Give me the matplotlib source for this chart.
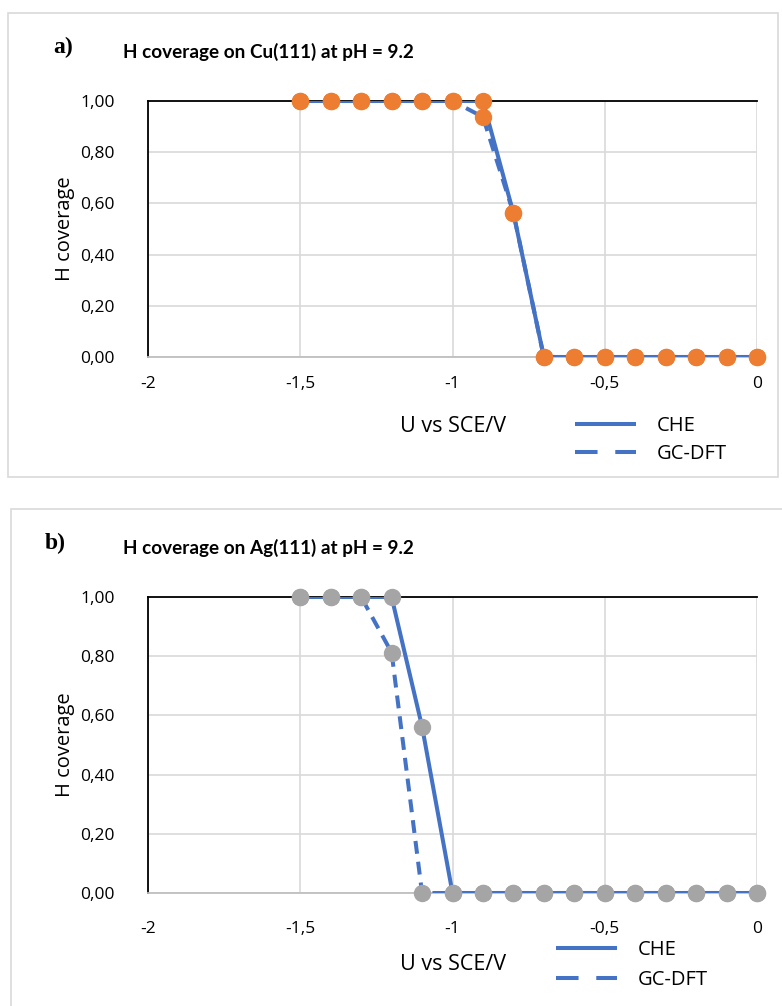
import matplotlib
matplotlib.use('Agg')
import matplotlib.pyplot as plt
from matplotlib.lines import Line2D
from matplotlib.patches import Rectangle
from matplotlib.ticker import FuncFormatter, MultipleLocator

# Datos
potencial = [-1.5, -1.4, -1.3, -1.2, -1.1, -1.0, -0.9, -0.8,
             -0.7, -0.6, -0.5, -0.4, -0.3, -0.2, -0.1, 0.0]

cu_che = [1, 1, 1, 1, 1, 1, 1, 0.5625, 0, 0, 0, 0, 0, 0, 0, 0]
cu_gcdft = [1, 1, 1, 1, 1, 1, 0.9375, 0.5625, 0, 0, 0, 0, 0, 0, 0, 0]

ag_che = [1, 1, 1, 1, 0.5625, 0, 0, 0, 0, 0, 0, 0, 0, 0, 0, 0]
ag_gcdft = [1, 1, 1, 0.8125, 0, 0, 0, 0, 0, 0, 0, 0, 0, 0, 0, 0]

titulos = ['H coverage on Cu(111) at pH = 9.2', 'H coverage on Ag(111) at pH = 9.2']
etiquetas = ['a)', 'b)']
series = ['CHE', 'GC-DFT']

AZUL = '#4472C4'
NARANJA = '#ED7D31'
GRIS = '#A5A5A5'
REJILLA = '#D9D9D9'

FUENTE = ['Open Sans', 'DejaVu Sans']
FUENTE_TITULO = ['Lato', 'DejaVu Sans']

plt.rcParams['font.family'] = FUENTE

fig = plt.figure(figsize=(7.82, 10.06), dpi=100)


def fmt_y(v, pos):
    return f'{v:.2f}'.replace('.', ',')


def fmt_x(v, pos):
    if abs(v - round(v)) < 1e-9:
        return f'{int(round(v))}'
    return f'{v:.1f}'.replace('.', ',')


def dibujar_panel(ax, che, gcdft, color_marcador):
    ax.plot(potencial, che, color=AZUL, lw=2.9, zorder=3, solid_capstyle='butt')
    ax.plot(potencial, gcdft, color=AZUL, lw=2.9, ls=(0, (3.2, 2.0)), zorder=3)
    ax.plot(potencial, che, ls='none', marker='o', ms=11.5,
            color=color_marcador, zorder=4, clip_on=False)
    ax.plot(potencial, gcdft, ls='none', marker='o', ms=11.5,
            color=color_marcador, zorder=4, clip_on=False)

    ax.set_xlim(-2, 0)
    ax.set_ylim(0, 1)
    ax.xaxis.set_major_locator(MultipleLocator(0.5))
    ax.yaxis.set_major_locator(MultipleLocator(0.2))
    ax.xaxis.set_major_formatter(FuncFormatter(fmt_x))
    ax.yaxis.set_major_formatter(FuncFormatter(fmt_y))
    ax.grid(True, color=REJILLA, lw=1.2, zorder=0)
    ax.set_axisbelow(True)
    ax.tick_params(length=0, labelsize=12.5)
    ax.tick_params(axis='y', pad=24)

    ax.spines['right'].set_visible(False)
    ax.spines['left'].set_color('black')
    ax.spines['left'].set_linewidth(1.3)
    ax.spines['top'].set_color('black')
    ax.spines['top'].set_linewidth(1.3)
    ax.spines['bottom'].set_color('#BFBFBF')
    ax.spines['bottom'].set_linewidth(1.3)

    ax.set_ylabel('H coverage', fontsize=14.5, labelpad=4)


# Marcos de cada panel
fig.add_artist(Rectangle((8 / 782, 1 - 477 / 1006), 770 / 782, 464 / 1006,
                         transform=fig.transFigure, fill=False,
                         edgecolor=REJILLA, lw=1.2))
fig.add_artist(Rectangle((11 / 782, -0.05), 1.0, 1 - 509 / 1006 + 0.05,
                         transform=fig.transFigure, fill=False,
                         edgecolor=REJILLA, lw=1.2))

ax1 = fig.add_axes([148 / 782, 1 - 357 / 1006, 609 / 782, 256 / 1006])
ax2 = fig.add_axes([148 / 782, 1 - 893 / 1006, 609 / 782, 296 / 1006])

dibujar_panel(ax1, cu_che, cu_gcdft, NARANJA)
dibujar_panel(ax2, ag_che, ag_gcdft, GRIS)
ax1.tick_params(axis='x', pad=14)
ax2.tick_params(axis='x', pad=20)

# Títulos y etiquetas de los paneles
for titulo, etiqueta, y_tit, x_et, y_et in [(titulos[0], etiquetas[0], 52, 53, 47),
                                            (titulos[1], etiquetas[1], 548, 45, 543)]:
    fig.text(268 / 782, 1 - y_tit / 1006, titulo, ha='center', va='center',
             fontsize=13.6, fontweight='bold', family=FUENTE_TITULO)
    fig.text(x_et / 782, 1 - y_et / 1006, etiqueta, ha='left', va='center',
             fontsize=17, fontweight='bold', family=['Liberation Serif', 'DejaVu Serif'])

# Eje x y leyenda (muestras de la leyenda con guiones largos, como en el original)
muestras = [Line2D([], [], color=AZUL, lw=2.9, solid_capstyle='butt'),
            Line2D([], [], color=AZUL, lw=2.9, ls=(0, (5.6, 4.4)))]
for ax, y_lab, x_leg, y_leg, esp in [(ax1, 426, 565, 440, 0.4), (ax2, 965, 546, 965, 0.5)]:
    fig.text(453 / 782, 1 - y_lab / 1006, 'U vs SCE/V', ha='center', va='center',
             fontsize=15.5)
    ax.legend(muestras, series, loc='center left',
              bbox_to_anchor=(x_leg / 782, 1 - y_leg / 1006),
              bbox_transform=fig.transFigure, frameon=False, fontsize=14.5,
              borderpad=0, handlelength=3.05, handletextpad=1.0, labelspacing=esp)

fig.savefig('out.png', dpi=100)
